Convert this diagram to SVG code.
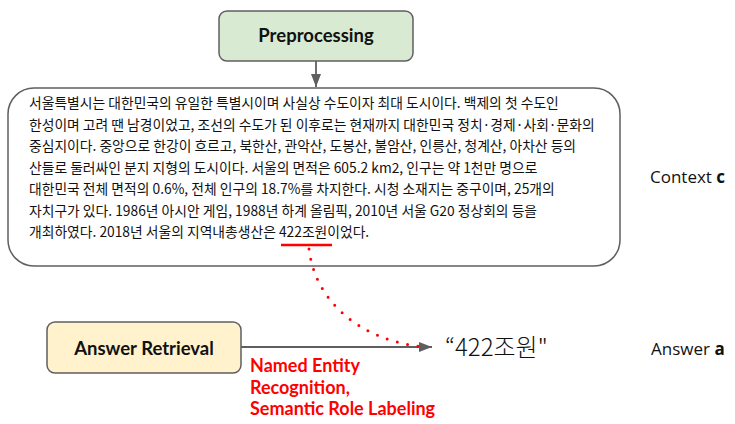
<svg xmlns="http://www.w3.org/2000/svg" width="735" height="424" viewBox="0 0 735 424">
  <style>
    .box { stroke: #5f5f5f; stroke-width: 1.5; }
    .lbl { font-family: Lato, "Open Sans", sans-serif; font-weight: bold; font-size: 18.5px; fill: #111; text-anchor: middle; dominant-baseline: central; }
    .ko { font-family: "Noto Sans CJK KR", "Noto Sans", sans-serif; font-size: 13.8px; fill: #111; }
    .side { font-family: "Open Sans", "Noto Sans", sans-serif; font-size: 17px; fill: #111; }
    .red { font-family: Lato, sans-serif; font-weight: bold; font-size: 18px; fill: #ff0000; }
    .conn { stroke: #5f5f5f; stroke-width: 1.8; fill: none; }
  </style>
  <defs>
    <marker id="arr" markerUnits="userSpaceOnUse" markerWidth="14" markerHeight="10" refX="13" refY="5" orient="auto">
      <path d="M0,0 L13,5 L0,10 z" fill="#5f5f5f"/>
    </marker>
  </defs>

  <g id="preprocessing">
    <rect class="box" x="219" y="11" width="194" height="50" rx="8" fill="#d9ead3"/>
    <text class="lbl" x="316" y="35">Preprocessing</text>
  </g>

  <g id="context">
    <rect class="box" x="8" y="88" width="612" height="178" rx="26" fill="#ffffff"/>
    <text class="ko" x="29" y="108">서울특별시는 대한민국의 유일한 특별시이며 사실상 수도이자 최대 도시이다. 백제의 첫 수도인</text>
    <text class="ko" x="29" y="129.5">한성이며 고려 땐 남경이었고, 조선의 수도가 된 이후로는 현재까지 대한민국 정치·경제·사회·문화의</text>
    <text class="ko" x="29" y="151">중심지이다. 중앙으로 한강이 흐르고, 북한산, 관악산, 도봉산, 불암산, 인릉산, 청계산, 아차산 등의</text>
    <text class="ko" x="29" y="172.5">산들로 둘러싸인 분지 지형의 도시이다. 서울의 면적은 605.2 km2, 인구는 약 1천만 명으로</text>
    <text class="ko" x="29" y="194">대한민국 전체 면적의 0.6%, 전체 인구의 18.7%를 차지한다. 시청 소재지는 중구이며, 25개의</text>
    <text class="ko" x="29" y="215.5">자치구가 있다. 1986년 아시안 게임, 1988년 하계 올림픽, 2010년 서울 G20 정상회의 등을</text>
    <text class="ko" x="29" y="237">개최하였다. 2018년 서울의 지역내총생산은 422조원이었다.</text>
    <line x1="281" y1="245" x2="332" y2="245" stroke="#ff0000" stroke-width="2.5"/>
  </g>

  <g id="context-label">
    <text class="side" x="650" y="183">Context <tspan font-weight="bold">c</tspan></text>
  </g>

  <g id="answer-retrieval">
    <rect class="box" x="47" y="322" width="194" height="51" rx="8" fill="#fff2cc"/>
    <text class="lbl" x="144" y="348">Answer Retrieval</text>
  </g>

  <g id="answer">
    <text x="445" y="356" font-family="'Noto Sans CJK KR', sans-serif" font-size="24" font-weight="300" fill="#111">“422조원"</text>
  </g>

  <g id="answer-label">
    <text class="side" x="651" y="355">Answer <tspan font-weight="bold">a</tspan></text>
  </g>

  <g id="method-label">
    <text class="red" x="250" y="372">Named Entity</text>
    <text class="red" x="250" y="393.5">Recognition,</text>
    <text class="red" x="250" y="415">Semantic Role Labeling</text>
  </g>

  <g id="connectors">
    <line class="conn" x1="316" y1="61" x2="316" y2="87" marker-end="url(#arr)"/>
    <line class="conn" x1="241" y1="347" x2="432" y2="347" marker-end="url(#arr)"/>
    <path d="M309,249 C315,300 358,340 424,347" fill="none" stroke="#ff0000" stroke-width="3" stroke-linecap="round" stroke-dasharray="0 10.5"/>
  </g>
</svg>
